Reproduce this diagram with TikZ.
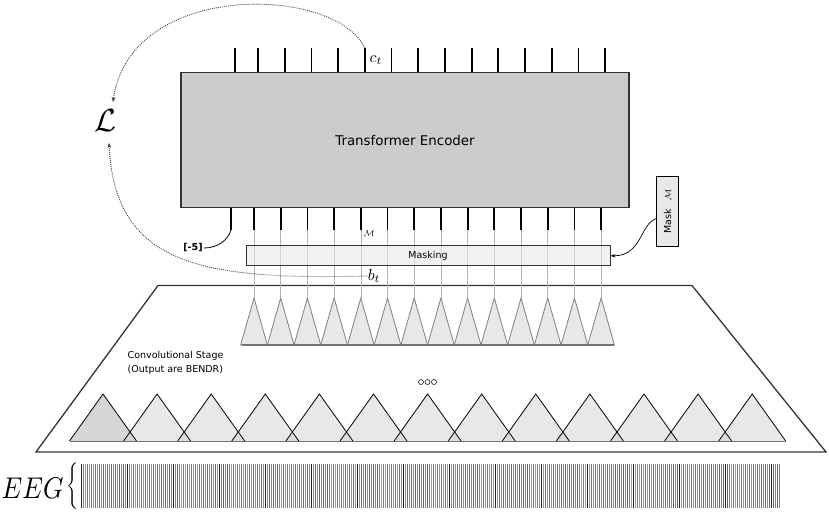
\documentclass[tikz,border=0pt]{standalone}
\usepackage{fontspec}
\setsansfont{DejaVu Sans}
\usetikzlibrary{arrows.meta,calc}
\definecolor{encfill}{HTML}{CCCCCC}
\definecolor{lightfill}{HTML}{E8E8E8}
\definecolor{firstfill}{HTML}{D6D6D6}
\definecolor{edge}{HTML}{333333}
\begin{document}
\begin{tikzpicture}[x=1pt,y=-1pt,
  tickline/.style={line width=1.8pt, black},
  guide/.style={black!30, line width=0.6pt},
  lossarrow/.style={dash pattern=on 0.9pt off 1.1pt, line width=0.9pt, black!75, -{Stealth[length=5pt,width=4pt]}},
  lbl/.style={font=\sffamily\fontsize{9.5}{14}\selectfont},
  smalltri/.style={fill=lightfill, draw=black!50, line width=0.8pt},
]
\useasboundingbox (0,0) rectangle (829,512);

% convolutional stage frame
\draw[edge, line width=1.3pt] (158,285.5) -- (692,285.5) -- (826,452) -- (36,452) -- cycle;

% encoder
\node[draw=edge, fill=encfill, line width=1.2pt, minimum width=448pt, minimum height=134.6pt,
      inner sep=0, font=\sffamily\fontsize{13.4}{15}\selectfont] (enc) at (405,140) {Transformer Encoder};

% top ticks
\foreach \i in {0,...,14} {
  \pgfmathsetmacro\xt{\i==0 ? 235 : 258+(\i-1)*26.7}
  \coordinate (t\i) at (\xt,48);
  \draw[tickline] (t\i) -- (t\i |- enc.north);
}
% bottom ticks
\foreach \i in {0,...,14} {
  \pgfmathsetmacro\xb{\i==0 ? 231 : 254+(\i-1)*26.7}
  \coordinate (b\i) at (\xb,230);
  \coordinate (a\i) at (\xb,298);
  \draw[tickline] (b\i |- enc.south) -- (b\i);
}

% small triangles (upper row)
\foreach \i in {1,...,14} {
  \path[smalltri] ($(a\i)+(-13.35,47)$) -- (a\i) -- ($(a\i)+(13.35,47)$) -- cycle;
}
\draw[black!55, line width=1.1pt] (241.5,345) -- (614,345);

% guides
\foreach \i in {1,...,14} {
  \draw[guide] (b\i) -- (a\i);
}

% masking box
\node[draw=edge, fill=lightfill, fill opacity=0.6, text opacity=1, line width=1pt,
      minimum width=364pt, minimum height=20.3pt, inner sep=0, lbl] (masking) at (428,255.8) {Masking};

% mask box
\node[draw=black, fill=lightfill, line width=1pt, minimum width=22pt, minimum height=70pt, inner sep=0] (mk) at (667.5,211.7) {};
\node[rotate=90, lbl, inner sep=0] (mktext) at (mk.center) {Mask\hspace{0.9em}$\mathcal{M}$};
\draw[black, line width=0.7pt, -{Stealth[length=5pt,width=3.5pt]}]
  ([yshift=-7pt]mk.west) .. controls (640,224) and (642,256) .. (masking.east);

% labels
\node[scale=1.6, inner sep=0] (ct) at (376,60) {$c_t$};
\node[scale=1.6, inner sep=0] (bt) at (374,276) {$b_t$};
\node[scale=0.9, inner sep=0] (mlbl) at (369,233) {$\mathcal{M}$};
\node[font=\sffamily\bfseries\fontsize{9.5}{11}\selectfont, inner sep=1pt] (m5) at (193,248) {[-5]};
\node[scale=3.2, inner sep=0] (loss) at (106,121) {$\mathcal{L}$};
\coordinate (lossTop) at (113,102);
\coordinate (lossBot) at (109,143);

% [-5] connector
\draw[black, line width=0.8pt] (b0) .. controls (228,240) and (218,248) .. (m5.east);

% loss arrows
\draw[lossarrow] (t5) .. controls (335,-15) and (130,-20) .. (lossTop);
\draw[lossarrow] (bt.west) .. controls (200,280) and (115,265) .. (lossBot);

% big triangles
\fill[firstfill] (69.5,441) -- (103,394) -- (136.5,441) -- cycle;
\foreach \i in {1,...,12} {
  \pgfmathsetmacro\xa{103+\i*54.1}
  \fill[black!18, fill opacity=0.5] (\xa-33.5,441) -- (\xa,394) -- (\xa+33.5,441) -- cycle;
}
\draw[black!55, line width=1.1pt] (69.5,441.5) -- (786,441.5);
\foreach \i in {0,...,12} {
  \pgfmathsetmacro\xa{103+\i*54.1}
  \draw[black, line width=0.8pt, line join=miter] (\xa-33.5,441) -- (\xa,394) -- (\xa+33.5,441);
}

% dots
\foreach \cx in {421,427.5,434} {
  \draw[black!80, line width=0.7pt] (\cx,382) circle[radius=2.5pt];
}

% conv stage label
\node[lbl, align=left, anchor=west, inner sep=0] (conv) at (127.5,363) {Convolutional Stage\\(Output are BENDR)};

% EEG
\node[xscale=2.6, yscale=3.0, inner sep=0, anchor=east] (eeg) at (64,488) {$EEG$};
\node[inner sep=0, anchor=west, xscale=1.5, yscale=1.55] (brace) at (66.5,486.5) {$\Bigg\{$};
\foreach \i in {0,...,349} {
  \pgfmathtruncatemacro\s{mod(\i*7,23)==0 ? 85 : (38+mod(\i*13,25))}
  \draw[black!\s, line width=0.55pt] (81+2*\i,464) -- (81+2*\i,508);
}
\end{tikzpicture}
\end{document}
